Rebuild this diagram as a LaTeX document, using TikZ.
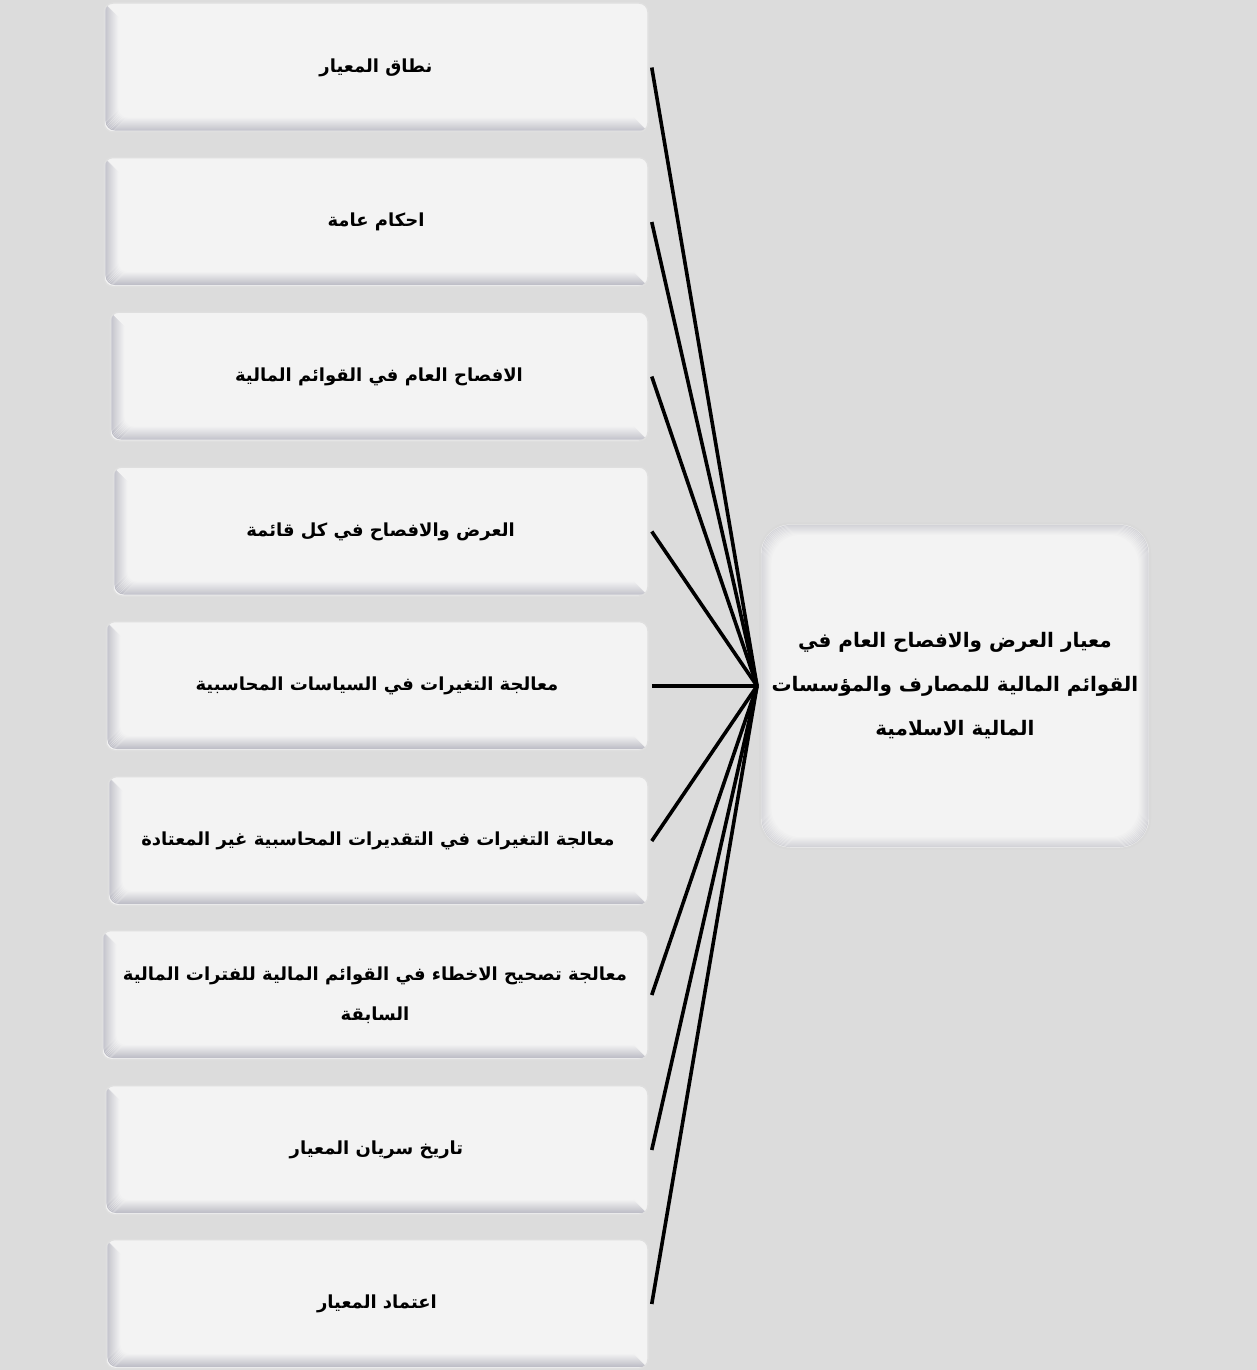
\documentclass[tikz,border=0pt]{standalone}
\usepackage{fontspec}
\newfontfamily\arabicfont[Script=Arabic]{DejaVu Sans}
\TeXXeTstate=1
\definecolor{bgc}{HTML}{DCDCDC}
\definecolor{boxfill}{HTML}{F3F3F3}
\definecolor{bevel}{HTML}{B4B4BE}
\begin{document}
\begin{tikzpicture}[x=1pt,y=-1pt,
  box/.style={draw=gray!25, line width=1.5pt, fill=boxfill, rounded corners=9pt,
    minimum height=129pt, inner sep=4pt, align=center,
    font=\arabicfont\bfseries\fontsize{18}{40}\selectfont,
    path picture={
      \foreach \k [evaluate=\k as \p using {max(0,95-6.5*\k)}] in {2,...,15}{
        \draw[bevel!\p!boxfill, line width=1.05pt]
          ([xshift=\k pt, yshift=-\k pt]path picture bounding box.north west) --
          ([xshift=\k pt, yshift=\k pt]path picture bounding box.south west) --
          ([xshift=-\k pt, yshift=\k pt]path picture bounding box.south east);
      }
    }},
  hubbox/.style={draw=gray!30, line width=2pt, fill=boxfill, rounded corners=30pt,
    minimum width=390pt, minimum height=325pt, align=center,
    font=\arabicfont\bfseries\fontsize{20}{44}\selectfont,
    path picture={
      \foreach \k [evaluate=\k as \p using {max(0,60-5*\k)}] in {2,...,12}{
        \draw[bevel!\p!boxfill, line width=1.05pt, rounded corners=28pt]
          ([xshift=\k pt, yshift=-\k pt]path picture bounding box.north west) rectangle
          ([xshift=-\k pt, yshift=\k pt]path picture bounding box.south east);
      }
    }},
  conn/.style={line width=3.6pt, black}
]
\useasboundingbox (0,0) rectangle (1257,1370);
\fill[bgc] (0,0) rectangle (1257,1370);

\node[hubbox] (c) at (955,686) {\beginR معيار العرض والافصاح العام في\endR\\\beginR القوائم المالية للمصارف والمؤسسات\endR\\\beginR المالية الاسلامية\endR};

\node[box, minimum width=544pt] (b1) at (376,67.5) {\beginR نطاق المعيار\endR};
\node[box, minimum width=544pt] (b2) at (376,222) {\beginR احكام عامة\endR};
\node[box, minimum width=538pt] (b3) at (379,376.5) {\beginR الافصاح العام في القوائم المالية\endR};
\node[box, minimum width=535pt] (b4) at (380.5,531.5) {\beginR العرض والافصاح في كل قائمة\endR};
\node[box, minimum width=542pt] (b5) at (377,686) {\beginR معالجة التغيرات في السياسات المحاسبية\endR};
\node[box, minimum width=540pt] (b6) at (378,841) {\beginR معالجة التغيرات في التقديرات المحاسبية غير المعتادة\endR};
\node[box, minimum width=546pt] (b7) at (375,995) {\beginR معالجة تصحيح الاخطاء في القوائم المالية للفترات المالية\endR\\\beginR السابقة\endR};
\node[box, minimum width=543pt] (b8) at (376.5,1150) {\beginR تاريخ سريان المعيار\endR};
\node[box, minimum width=542pt] (b9) at (377,1304) {\beginR اعتماد المعيار\endR};

\coordinate (hub) at ([xshift=-2pt]c.west);
\foreach \i in {1,...,9}{
  \draw[conn] ([xshift=3pt]b\i.east) -- (hub);
}
\end{tikzpicture}
\end{document}
